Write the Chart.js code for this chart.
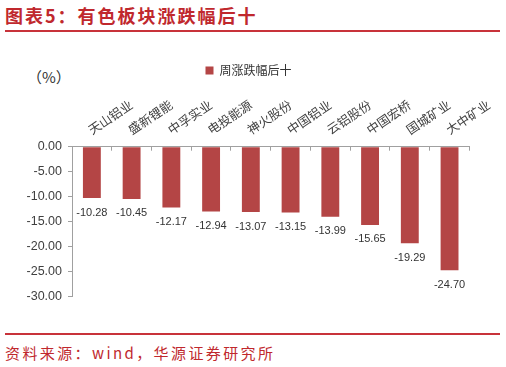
<!DOCTYPE html>
<html>
<head>
<meta charset="utf-8">
<script src="https://cdn.jsdelivr.net/npm/chart.js@4"></script>
<style>
  body { margin: 0; width: 506px; height: 367px; position: relative; background: #fff; overflow: hidden; }
  .cjk { font-family: 'Noto Sans CJK SC', sans-serif; position: absolute; white-space: nowrap; }
  #title { left: 5px; top: 5px; font-size: 18px; font-weight: bold; line-height: 20px; color: #c0282d; letter-spacing: 2px; }
  .rule { position: absolute; left: 5px; width: 495px; height: 2px; background: #c8333a; }
  #source { left: 5px; top: 344px; font-size: 15px; line-height: 18px; color: #c0282d; letter-spacing: 2.4px; }
  #unit { left: 27px; top: 68px; font-size: 15px; line-height: 18px; color: #333; }
  #wrap { position: absolute; left: 0; top: 35px; width: 506px; height: 290px; }
</style>
</head>
<body>
<div id="title" class="cjk">图表5：有色板块涨跌幅后十</div>
<div class="rule" style="top:29.5px"></div>
<div id="unit" class="cjk">（%）</div>
<div id="wrap"><canvas id="myChart"></canvas></div>
<div class="rule" style="top:333px"></div>
<div id="source" class="cjk">资料来源：wind，华源证券研究所</div>

<script>
// data
const categories = ['天山铝业', '盛新锂能', '中孚实业', '电投能源', '神火股份', '中国铝业', '云铝股份', '中国宏桥', '国城矿业', '大中矿业'];
const weeklyChange = [-10.28, -10.45, -12.17, -12.94, -13.07, -13.15, -13.99, -15.65, -19.29, -24.70];
const seriesName = '周涨跌幅后十';
const yMin = -30;
const yMax = 0;
const yStep = 5;

const barColor = 'rgb(180, 69, 69)';
const axisColor = '#a0a0a0';
const textColor = '#404040';

// value labels under each bar
const valueLabels = {
  id: 'valueLabels',
  afterDatasetsDraw: (chart) => {
    const ctx = chart.ctx;
    const meta = chart.getDatasetMeta(0);
    ctx.save();
    ctx.font = "11px 'Liberation Sans', Arial, sans-serif";
    ctx.fillStyle = '#333';
    ctx.textAlign = 'center';
    ctx.textBaseline = 'middle';
    meta.data.forEach((bar, i) => {
      ctx.fillText(weeklyChange[i].toFixed(2), bar.x, bar.y + 14.5);
    });
    ctx.restore();
  }
};

const config = {
  type: 'bar',
  data: {
    labels: categories,
    datasets: [{
      label: seriesName,
      data: weeklyChange,
      backgroundColor: barColor,
      borderWidth: 0,
      barPercentage: 0.45,
      categoryPercentage: 1
    }]
  },
  options: {
    responsive: true,
    maintainAspectRatio: false,
    animation: false,
    layout: {
      padding: { top: 19.5, left: 25, right: 34, bottom: 28.3 }
    },
    plugins: {
      legend: {
        position: 'top',
        labels: {
          boxWidth: 8,
          boxHeight: 8,
          padding: 10,
          color: '#333',
          font: { family: "'Noto Sans CJK SC'", size: 12 }
        }
      },
      tooltip: { enabled: false }
    },
    scales: {
      x: {
        position: 'top',
        afterFit: (scale) => { scale.height = 60.2; },
        grid: {
          display: true,
          offset: true,
          drawOnChartArea: false,
          drawTicks: true,
          tickLength: -4,
          color: axisColor
        },
        border: { display: true, color: axisColor, width: 1 },
        ticks: {
          autoSkip: false,
          minRotation: 34,
          maxRotation: 34,
          padding: 13.3,
          labelOffset: 6.2,
          color: textColor,
          font: { family: "'Noto Sans CJK SC'", size: 12.5 }
        }
      },
      y: {
        min: yMin,
        max: yMax,
        afterFit: (scale) => { scale.width = 47; },
        grid: {
          drawOnChartArea: false,
          drawTicks: true,
          tickLength: 4,
          color: axisColor
        },
        border: { display: true, color: axisColor, width: 1 },
        ticks: {
          stepSize: yStep,
          padding: 6,
          color: textColor,
          font: { family: "'Liberation Sans', Arial, sans-serif", size: 12.5 },
          callback: (value) => value.toFixed(2)
        }
      }
    }
  },
  plugins: [valueLabels]
};

const myChart = new Chart(document.getElementById('myChart'), config);
</script>
</body>
</html>
